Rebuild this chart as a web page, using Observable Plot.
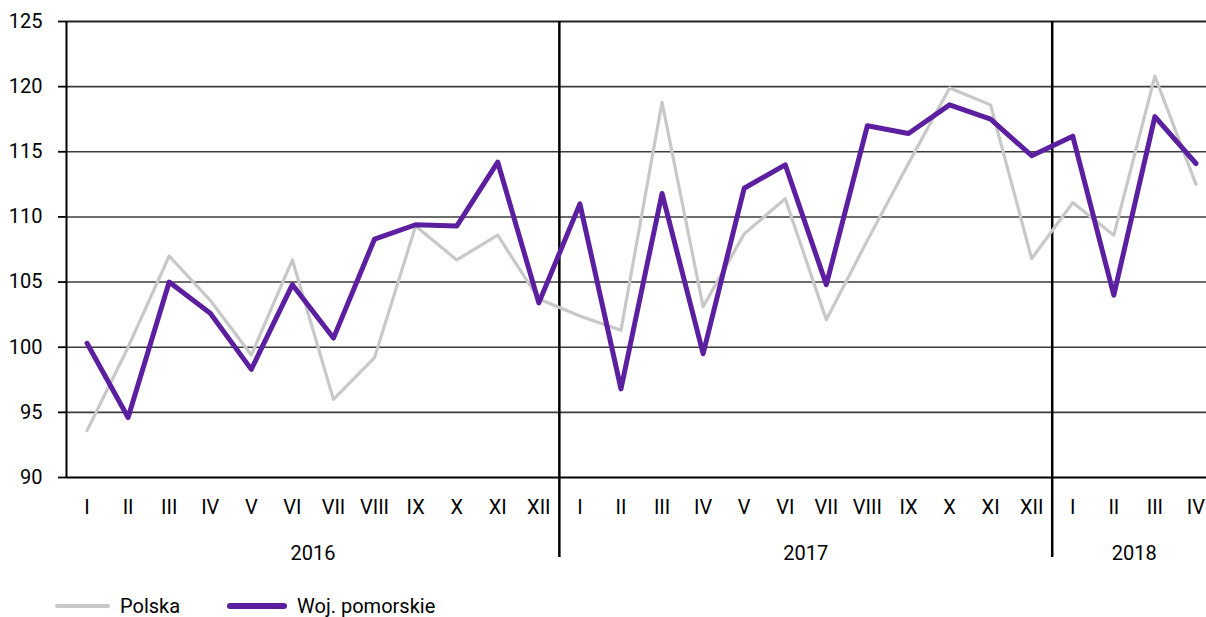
<!DOCTYPE html>
<html>
<head>
<meta charset="utf-8">
<script src="https://cdn.jsdelivr.net/npm/d3@7"></script>
<script src="https://cdn.jsdelivr.net/npm/@observablehq/plot@0.6"></script>
<style>
  html, body { margin: 0; padding: 0; background: #fff; overflow: hidden; }
  #chart svg { display: block; }
  .legend { display: flex; align-items: center; height: 26px; margin-top: 13px; font-family: Roboto, sans-serif; font-size: 20px; color: #000; }
  .sw { display: inline-block; border-radius: 3px; }
</style>
</head>
<body>
<div id="chart"></div>
<div class="legend" id="legend"></div>
<script>
const monthLabels = ["I","II","III","IV","V","VI","VII","VIII","IX","X","XI","XII",
                     "I","II","III","IV","V","VI","VII","VIII","IX","X","XI","XII",
                     "I","II","III","IV"];
const years = ["2016", "2017", "2018"];
const monthsPerYear = [12, 12, 4];
const polska = [93.6,100.0,107.0,103.6,99.4,106.7,96.0,99.2,109.3,106.7,108.6,103.7,
                102.4,101.3,118.8,103.1,108.7,111.4,102.1,108.2,114.1,119.9,118.6,106.8,
                111.1,108.6,120.8,112.5];
const pomorskie = [100.3,94.6,105.0,102.6,98.3,104.8,100.7,108.3,109.4,109.3,114.2,103.4,
                   111.0,96.8,111.8,99.5,112.2,114.0,104.8,117.0,116.4,118.6,117.5,114.7,
                   116.2,104.0,117.7,114.1];
const yTicks = [90, 95, 100, 105, 110, 115, 120, 125];
const seriesNames = ["Polska", "Woj. pomorskie"];
const colors = ["#c8c8c8", "#5b1f9f"];

const idx = d3.range(monthLabels.length);
const starts = d3.cumsum([0, ...monthsPerYear]).slice(0, years.length);
const yearRows = years.map((y, i) => ({label: y, mid: starts[i] + (monthsPerYear[i] - 1) / 2}));
const separators = starts.slice(1).map(s => s - 0.5);

const plot = Plot.plot({
  width: 1206,
  height: 580,
  marginLeft: 66,
  marginRight: -10,
  marginTop: 21,
  marginBottom: 103,
  style: {fontFamily: "Roboto, sans-serif", fontSize: "20px", color: "#000", background: "#fff", overflow: "hidden"},
  x: {domain: [-0.5, monthLabels.length - 0.5]},
  y: {domain: [90, 125]},
  marks: [
    Plot.ruleY(yTicks.filter(v => v !== 90 && v !== 125), {stroke: "#3c3c3c", strokeWidth: 1.6}),
    Plot.ruleY([125], {stroke: "#222", strokeWidth: 1.8}),
    Plot.ruleY([90], {stroke: "#000", strokeWidth: 2}),
    Plot.ruleX([-0.5], {stroke: "#000", strokeWidth: 2}),
    Plot.ruleX(separators, {stroke: "#000", strokeWidth: 2.5, insetBottom: -80}),
    Plot.axisY({ticks: yTicks, tickSize: 8, tickPadding: 16, strokeWidth: 1.8, label: null, fontSize: 20}),
    Plot.axisX({ticks: idx, tickFormat: i => monthLabels[i], tickSize: 0, tickPadding: 22, label: null, fontSize: 20}),
    Plot.text(yearRows, {x: "mid", y: () => 90, text: "label", dy: 76, fontSize: 20, fill: "#000"}),
    Plot.line(idx, {x: i => i, y: i => polska[i], stroke: colors[0], strokeWidth: 3.2}),
    Plot.line(idx, {x: i => i, y: i => pomorskie[i], stroke: colors[1], strokeWidth: 5})
  ]
});
document.getElementById("chart").append(plot);

const legend = document.getElementById("legend");
const swatchSpecs = [{w: 55, h: 4, ml: 55, gap: 10}, {w: 60, h: 6, ml: 47, gap: 10}];
seriesNames.forEach((name, i) => {
  const sw = document.createElement("span");
  sw.className = "sw";
  sw.style.background = colors[i];
  sw.style.width = swatchSpecs[i].w + "px";
  sw.style.height = swatchSpecs[i].h + "px";
  sw.style.marginLeft = swatchSpecs[i].ml + "px";
  sw.style.marginRight = swatchSpecs[i].gap + "px";
  const t = document.createElement("span");
  t.textContent = name;
  legend.append(sw, t);
});
</script>
</body>
</html>
